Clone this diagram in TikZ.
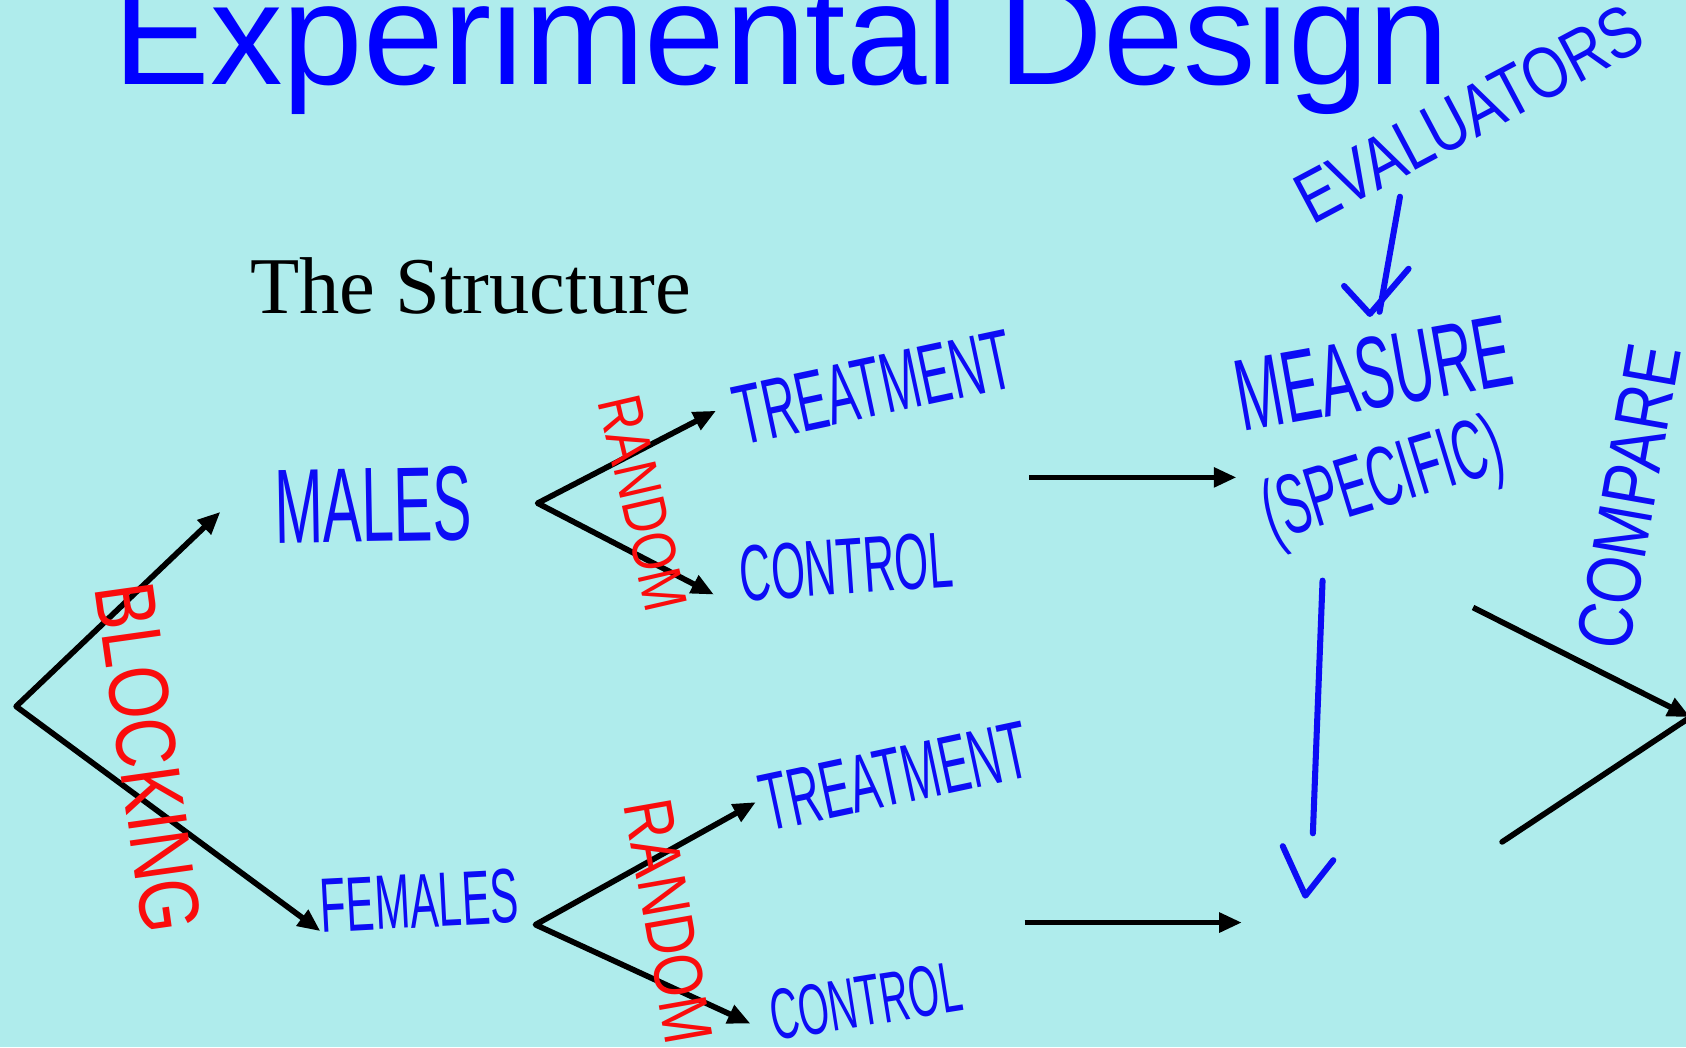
\documentclass[tikz,border=0pt]{standalone}
\usepackage{fontspec}
\setmainfont{Liberation Serif}
\newfontfamily\titelfont{Liberation Sans}
\newfontfamily\handfont[FakeStretch=0.55]{Liberation Sans}
\newfontfamily\breithand[FakeStretch=0.8]{Liberation Sans}
\usetikzlibrary{arrows.meta}

\definecolor{folie}{RGB}{175,236,236}
\definecolor{stift}{RGB}{12,12,245}
\definecolor{rotstift}{RGB}{250,12,12}

\tikzset{
    pfeil/.style={line width=1.5pt, -{Triangle[length=6pt,width=5pt]}},
    gabel/.style={line width=1.5pt, line join=round, {Triangle[length=6pt,width=5pt]}-{Triangle[length=6pt,width=5pt]}},
    strich/.style={line width=1.5pt, line cap=round},
    schrift/.style={inner sep=0pt},
    stiftlinie/.style={draw=stift, line width=1.6pt, line cap=round, line join=round}
}

\begin{document}
\begin{tikzpicture}[x=0.01cm, y=-0.01cm]
    % Hintergrund der Folie
    \fill[folie] (0,0) rectangle (1568,974);
    \useasboundingbox (0,0) rectangle (1568,974);

    % Titel und Untertitel
    \node[schrift, anchor=base west, text=blue, font=\titelfont\fontsize{38.3}{38}\selectfont] (titel) at (105,79) {Experimental Design};
    \node[schrift, anchor=base west, font=\fontsize{21.3}{22}\selectfont] (struktur) at (232,292) {The Structure};

    % Punkte der Verzweigungen
    \coordinate (wurzel) at (15,657);
    \coordinate (m) at (205,476);
    \coordinate (f) at (298,866);
    \coordinate (mv) at (500,468);
    \coordinate (mt) at (666,382);
    \coordinate (mc) at (664,553);
    \coordinate (fv) at (498,860);
    \coordinate (ft) at (703,746);
    \coordinate (fc) at (698,952);
    \coordinate (o1) at (957,444);
    \coordinate (o2) at (1150,444);
    \coordinate (u1) at (953,858);
    \coordinate (u2) at (1155,858);
    \coordinate (v1) at (1370,565);
    \coordinate (v2) at (1397,783);
    \coordinate (spitze) at (1572,667);

    % schwarze Pfeile
    \draw[gabel] (m) -- (wurzel) -- (f);
    \draw[gabel] (mt) -- (mv) -- (mc);
    \draw[gabel] (ft) -- (fv) -- (fc);
    \draw[pfeil] (o1) -- (o2);
    \draw[pfeil] (u1) -- (u2);
    \draw[pfeil] (v1) -- (spitze);
    \draw[strich] (v2) -- (spitze);

    % handschriftliche Beschriftung (blau)
    \foreach \name/\px/\py/\winkel/\groesse/\wort in {males/347/470/1/28/MALES,
                                                     females/390/838/3/20.4/FEMALES,
                                                     treat1/812/360/12/22.5/TREATMENT,
                                                     ctrl1/787/527/4/21/CONTROL,
                                                     treat2/832/722/12/21.6/TREATMENT,
                                                     ctrl2/805/931/9/19/CONTROL,
                                                     measure/1277/347/10/27/MEASURE,
                                                     specific/1287/450/17/22.5/(SPECIFIC)}
        {
            \node[schrift, text=stift, rotate=\winkel, font=\handfont\fontsize{\groesse}{\groesse}\selectfont] (\name) at (\px,\py) {\wort};
        }
    \node[schrift, text=stift, rotate=28, font=\breithand\fontsize{19.2}{20}\selectfont] (evaluators) at (1366,106) {EVALUATORS};
    \node[schrift, text=stift, rotate=80, font=\breithand\fontsize{20.4}{21}\selectfont] (compare) at (1515,462) {COMPARE};

    % handgezeichnete Pfeile
    \coordinate (e1) at (1302,183);
    \coordinate (e2) at (1283,290);
    \draw[stiftlinie] (e1) -- (e2);
    \draw[stiftlinie] (1250,266) -- (1274,292) -- (1310,250);
    \coordinate (s1) at (1230,540);
    \coordinate (s2) at (1221,775);
    \draw[stiftlinie] (s1) -- (s2);
    \draw[stiftlinie] (1193,787) -- (1214,833) -- (1240,800);

    % handschriftliche Beschriftung (rot)
    \foreach \name/\px/\py/\winkel/\groesse/\wort in {blocking/138/705/-82/22.5/BLOCKING,
                                                     random1/598/468/-77/16.3/RANDOM,
                                                     random2/622/857/-80/18.3/RANDOM}
        {
            \node[schrift, text=rotstift, rotate=\winkel, font=\breithand\fontsize{\groesse}{\groesse}\selectfont] (\name) at (\px,\py) {\wort};
        }
\end{tikzpicture}
\end{document}
